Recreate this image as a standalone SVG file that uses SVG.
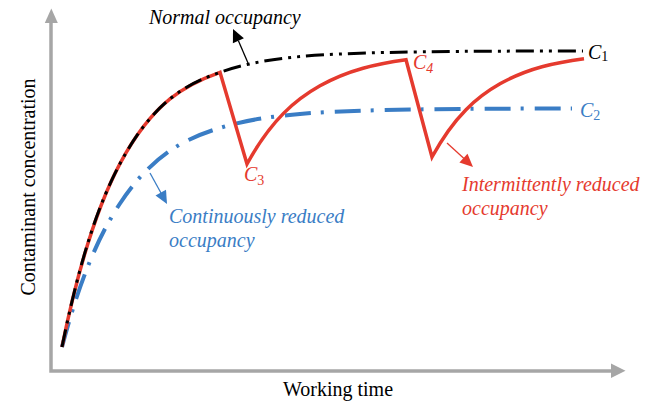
<svg xmlns="http://www.w3.org/2000/svg" width="655" height="402" viewBox="0 0 655 402">
<style>
.axis{fill:none;stroke:#A6A6A6;stroke-width:3.5}
.axhead{fill:#A6A6A6}
.lbl{font-family:"Liberation Serif","Times New Roman",serif;font-size:20px}
.it{font-style:italic}
.sub{font-size:14px}
.red{fill:#E53A2E}
.blue{fill:#3A7DC5}
.blk{fill:#000}
</style>
<rect width="655" height="402" fill="#fff"/>
<g id="axes">
<path class="axis" d="M51,22 V371 H612"/>
<polygon class="axhead" points="51.3,8.5 44.8,23 57.8,23"/>
<polygon class="axhead" points="625.5,370.8 611,363.5 611,378"/>
<text class="lbl blk" x="338" y="396" text-anchor="middle">Working time</text>
<text class="lbl blk" transform="translate(35,187) rotate(-90)" text-anchor="middle">Contaminant concentration</text>
</g>
<g id="connectors">
<path id="curve-c2" d="M62,347 C81.33,273.8 100.67,232.65 120,203.5 C153.33,153.23 186.67,138.17 220,127.9 C246.67,119.69 273.33,116.27 300,113.96 C355,109.2 460,108.6 572,108.5" fill="none" stroke="#3A7DC5" stroke-width="4" stroke-dasharray="26 10 3 11"/>
<path id="curve-red" d="M62,347 C81.33,251.6 100.67,199.9 120,163.6 C153.33,101 186.67,84.1 220,72.3 L247,164 C271.33,119.65 295.67,99.46 320,85.8 C348.67,69.71 377.33,63.7 406,59.7 L432,157 C454.67,115.57 477.33,96.62 500,83.8 C528,67.97 556,62.42 584,58.7" fill="none" stroke="#E53A2E" stroke-width="3.5" stroke-linejoin="miter"/>
<path id="curve-c1" d="M62,347 C81.33,251.6 100.67,199.9 120,163.6 C153.33,101 186.67,84.1 220,72.3 C246.67,62.86 273.33,59.09 300,56.6 C360,51.2 470,51.1 583,51" fill="none" stroke="#000" stroke-width="3" stroke-dasharray="18 6 3 6 3 6"/>
<line x1="248" y1="63" x2="238.4" y2="40.8" stroke="#000" stroke-width="1.3"/>
<polygon points="233,29 243.9,38.3 232.9,43.3" fill="#000"/>
<line x1="150" y1="173" x2="161" y2="193" stroke="#3A7DC5" stroke-width="1.3"/>
<polygon points="167,204 166,189.7 155.5,195.5" fill="#3A7DC5"/>
<line x1="447" y1="143" x2="464" y2="158.5" stroke="#E53A2E" stroke-width="1.3"/>
<polygon points="473,167 467.5,153.8 459.4,162.6" fill="#E53A2E"/>
</g>
<g id="label-normal">
<text class="lbl it blk" x="149" y="24">Normal occupancy</text>
</g>
<g id="label-continuous">
<text class="lbl it blue" x="169" y="223">Continuously reduced</text>
<text class="lbl it blue" x="169" y="247">occupancy</text>
</g>
<g id="label-intermittent">
<text class="lbl it red" x="462" y="191">Intermittently reduced</text>
<text class="lbl it red" x="462" y="215">occupancy</text>
</g>
<g id="label-c1">
<text class="lbl blk" x="588" y="59"><tspan class="it">C</tspan><tspan class="sub" dy="2">1</tspan></text>
</g>
<g id="label-c2">
<text class="lbl blue" x="580" y="117"><tspan class="it">C</tspan><tspan class="sub" dy="3">2</tspan></text>
</g>
<g id="label-c3">
<text class="lbl red" x="244" y="181"><tspan class="it">C</tspan><tspan class="sub" dy="4">3</tspan></text>
</g>
<g id="label-c4">
<text class="lbl red" x="413" y="69"><tspan class="it">C</tspan><tspan class="sub it" dy="4">4</tspan></text>
</g>
</svg>
